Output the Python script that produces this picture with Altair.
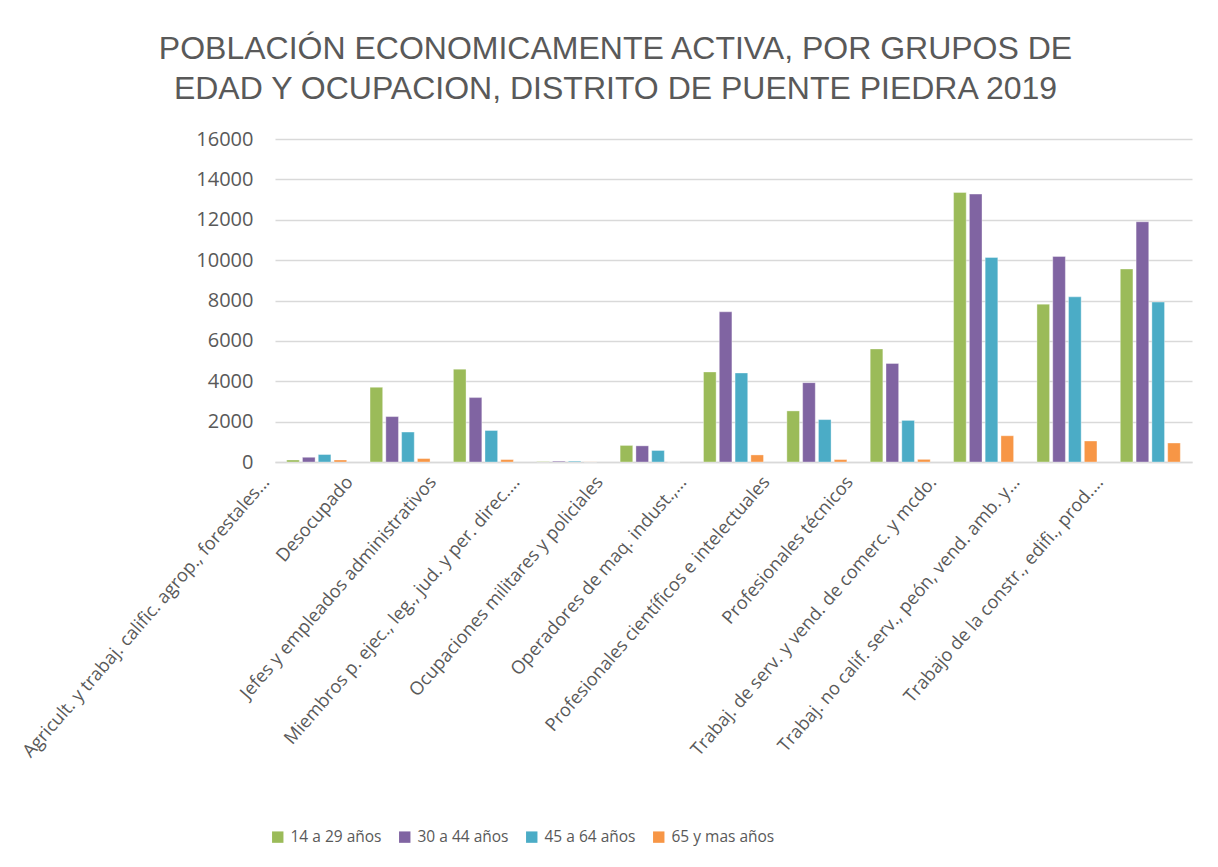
import altair as alt
import pandas as pd

categories = [
    "Agricult. y trabaj. calific. agrop., forestales...",
    "Desocupado",
    "Jefes y empleados administrativos",
    "Miembros p. ejec., leg., jud. y per. direc....",
    "Ocupaciones militares y policiales",
    "Operadores de maq. indust.,...",
    "Profesionales científicos e intelectuales",
    "Profesionales técnicos",
    "Trabaj. de serv. y vend. de comerc. y mcdo.",
    "Trabaj. no calif. serv., peón, vend. amb. y...",
    "Trabajo de la constr., edifi., prod....",
]
series = ["14 a 29 años", "30 a 44 años", "45 a 64 años", "65 y mas años"]
v_14_29 = [100, 3700, 4600, 20, 820, 4460, 2530, 5600, 13350, 7820, 9560]
v_30_44 = [230, 2250, 3190, 40, 800, 7440, 3930, 4880, 13270, 10180, 11900]
v_45_64 = [370, 1480, 1560, 40, 570, 4410, 2100, 2060, 10130, 8180, 7920]
v_65 = [100, 170, 120, 5, 0, 350, 120, 130, 1300, 1040, 940]
colors = ["#9BBB59", "#8064A2", "#4BACC6", "#F79646"]

rows = []
for s, vals in zip(series, [v_14_29, v_30_44, v_45_64, v_65]):
    for c, v in zip(categories, vals):
        rows.append({"Ocupacion": c, "Grupo": s, "Valor": v})
df = pd.DataFrame(rows)

TXT = "#595959"

chart = (
    alt.Chart(df)
    .mark_bar(stroke="white", strokeWidth=0.6, strokeOpacity=0.6)
    .encode(
        x=alt.X(
            "Ocupacion:N",
            sort=categories,
            title=None,
            scale=alt.Scale(paddingInner=0.28, paddingOuter=0.14),
            axis=alt.Axis(
                labelAngle=-49,
                labelFont="Open Sans",
                labelFontSize=18.2,
                labelColor=TXT,
                labelLimit=0,
                ticks=False,
                domainColor="#D9D9D9",
                domainWidth=1.5,
                labelPadding=17,
                labelOffset=-50,
            ),
        ),
        xOffset=alt.XOffset(
            "Grupo:N", sort=series, scale=alt.Scale(paddingInner=0.2, paddingOuter=0)
        ),
        y=alt.Y(
            "Valor:Q",
            title=None,
            scale=alt.Scale(domain=[0, 16000], nice=False),
            axis=alt.Axis(
                values=list(range(0, 16001, 2000)),
                format="d",
                labelFont="Open Sans",
                labelFontSize=20,
                labelColor=TXT,
                labelPadding=22,
                ticks=False,
                domain=False,
                gridColor="#D9D9D9",
                gridWidth=1.5,
            ),
        ),
        color=alt.Color(
            "Grupo:N",
            sort=series,
            scale=alt.Scale(domain=series, range=colors),
            legend=alt.Legend(
                title=None,
                orient="none",
                legendX=-5,
                legendY=690,
                direction="horizontal",
                columns=4,
                symbolType="square",
                symbolSize=130,
                symbolStrokeWidth=0,
                labelFont="Open Sans",
                labelFontSize=15.5,
                labelColor=TXT,
                labelOffset=5,
                columnPadding=15,
                labelLimit=0,
            ),
        ),
    )
    .properties(
        width=917,
        height=323,
        autosize=alt.AutoSizeParams(type="none"),
        padding={"left": 267, "top": 131, "right": 10, "bottom": 390},
        title=alt.TitleParams(
            text=[
                "POBLACIÓN ECONOMICAMENTE ACTIVA, POR GRUPOS DE",
                "EDAD Y OCUPACION, DISTRITO DE PUENTE PIEDRA 2019",
            ],
            anchor="middle",
            frame="group",
            dx=-118,
            offset=23,
            font="Liberation Sans",
            fontSize=32,
            fontWeight="normal",
            color=TXT,
            lineHeight=40,
        ),
        background="white",
    )
    .configure_view(stroke=None)
)

chart.save("out.html", embed_options={"renderer": "svg", "actions": False})
